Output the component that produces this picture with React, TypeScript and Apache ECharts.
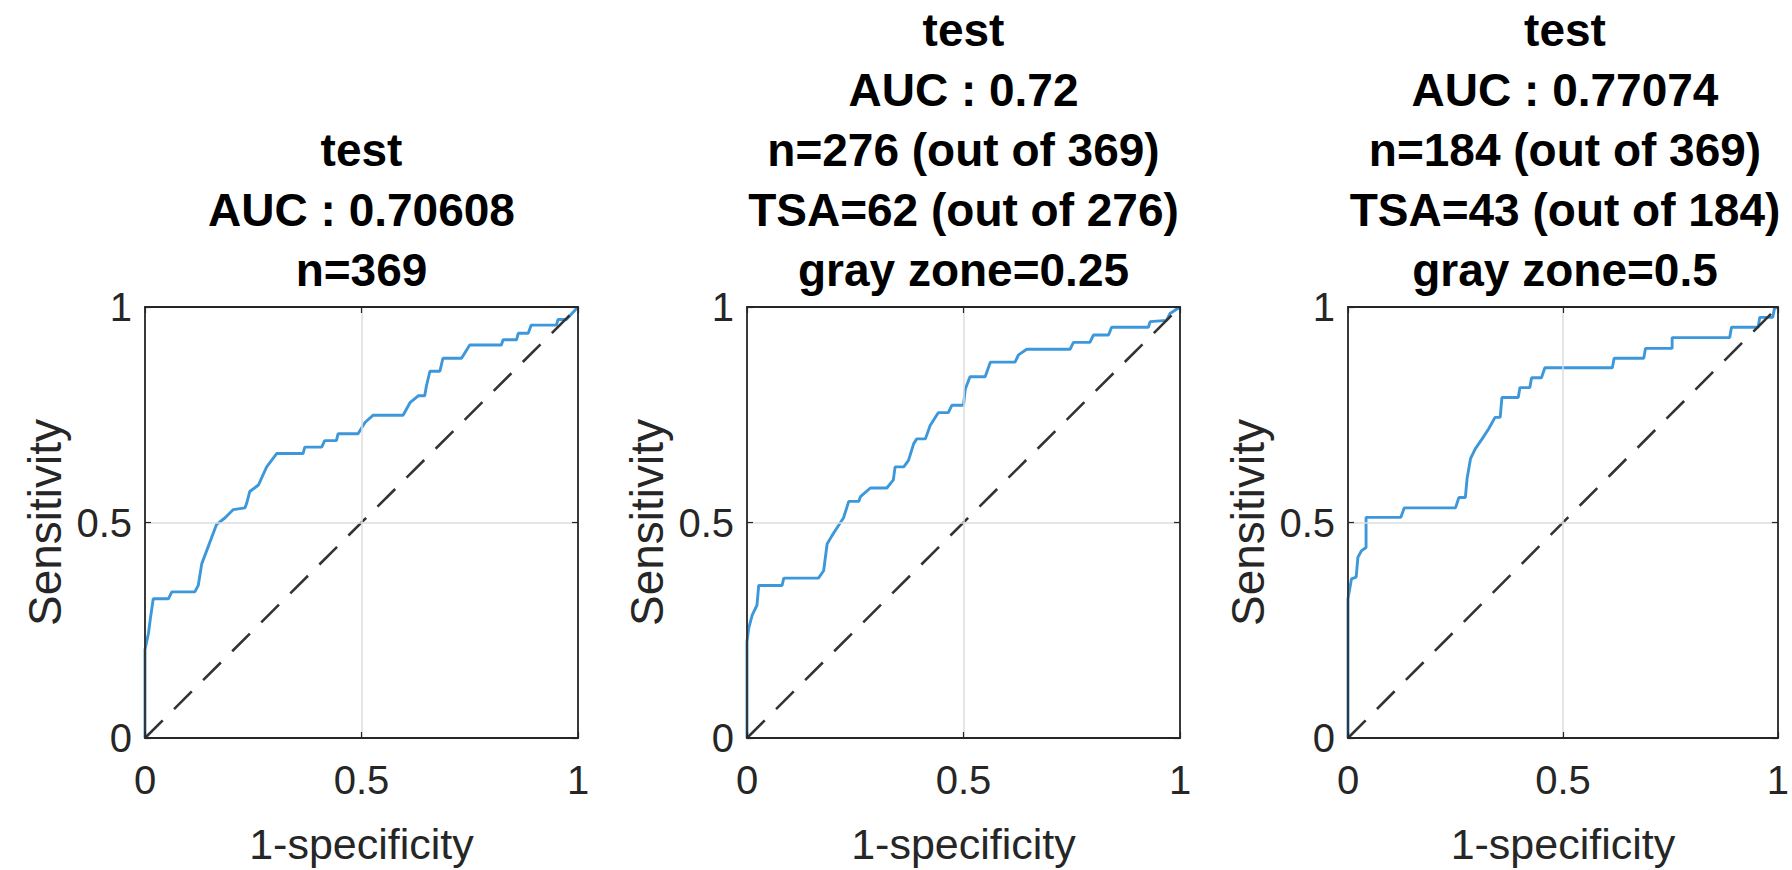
import React, { useEffect, useRef } from 'react';
import * as echarts from 'echarts';

const titles1 = ['test', 'AUC : 0.70608', 'n=369'];
const titles2 = ['test', 'AUC : 0.72', 'n=276 (out of 369)', 'TSA=62 (out of 276)', 'gray zone=0.25'];
const titles3 = ['test', 'AUC : 0.77074', 'n=184 (out of 369)', 'TSA=43 (out of 184)', 'gray zone=0.5'];
const xAxisName = '1-specificity';
const yAxisName = 'Sensitivity';

const diagX = [0, 1];
const diagY = [0, 1];

const fpr1 = [0, 0, 0.008, 0.012, 0.019, 0.054, 0.062, 0.115, 0.123, 0.131, 0.165, 0.185, 0.204, 0.231, 0.235, 0.242, 0.262, 0.281, 0.304, 0.365, 0.369, 0.408, 0.415, 0.442, 0.446, 0.492, 0.508, 0.527, 0.596, 0.612, 0.631, 0.646, 0.65, 0.658, 0.681, 0.688, 0.731, 0.75, 0.823, 0.827, 0.858, 0.862, 0.885, 0.892, 0.95, 0.954, 0.973, 1];
const tpr1 = [0, 0.205, 0.243, 0.274, 0.323, 0.323, 0.339, 0.339, 0.354, 0.404, 0.495, 0.511, 0.53, 0.534, 0.545, 0.572, 0.587, 0.629, 0.66, 0.66, 0.675, 0.675, 0.69, 0.69, 0.706, 0.706, 0.732, 0.749, 0.749, 0.778, 0.794, 0.794, 0.817, 0.851, 0.851, 0.881, 0.881, 0.912, 0.912, 0.924, 0.924, 0.939, 0.939, 0.958, 0.958, 0.971, 0.971, 1];

const fpr2 = [0, 0, 0.004, 0.012, 0.023, 0.027, 0.081, 0.085, 0.165, 0.177, 0.185, 0.196, 0.208, 0.223, 0.235, 0.258, 0.262, 0.285, 0.323, 0.338, 0.342, 0.362, 0.373, 0.385, 0.392, 0.412, 0.423, 0.442, 0.465, 0.473, 0.5, 0.504, 0.515, 0.55, 0.562, 0.619, 0.627, 0.646, 0.746, 0.754, 0.792, 0.8, 0.835, 0.842, 0.927, 0.931, 0.969, 0.977, 1];
const tpr2 = [0, 0.224, 0.255, 0.285, 0.308, 0.354, 0.354, 0.371, 0.371, 0.388, 0.45, 0.469, 0.488, 0.511, 0.549, 0.549, 0.56, 0.58, 0.58, 0.599, 0.629, 0.629, 0.644, 0.683, 0.694, 0.694, 0.725, 0.755, 0.755, 0.772, 0.772, 0.809, 0.838, 0.838, 0.872, 0.872, 0.889, 0.902, 0.902, 0.918, 0.918, 0.935, 0.935, 0.953, 0.953, 0.966, 0.969, 0.985, 1];

const fpr3 = [0, 0, 0.008, 0.019, 0.023, 0.031, 0.042, 0.042, 0.123, 0.131, 0.25, 0.258, 0.273, 0.277, 0.285, 0.296, 0.312, 0.327, 0.342, 0.354, 0.358, 0.396, 0.4, 0.423, 0.427, 0.45, 0.458, 0.615, 0.619, 0.688, 0.692, 0.754, 0.754, 0.888, 0.892, 0.954, 0.958, 0.988, 0.992, 1];
const tpr3 = [0, 0.323, 0.369, 0.373, 0.419, 0.434, 0.442, 0.512, 0.512, 0.534, 0.534, 0.558, 0.558, 0.602, 0.648, 0.671, 0.694, 0.717, 0.744, 0.744, 0.79, 0.79, 0.813, 0.813, 0.836, 0.836, 0.859, 0.859, 0.881, 0.881, 0.904, 0.904, 0.929, 0.929, 0.953, 0.953, 0.976, 0.976, 0.996, 1];

const FONT = "'Liberation Sans', Arial, Helvetica, sans-serif";

export default function App() {
  const ref = useRef<HTMLDivElement>(null);
  useEffect(() => {
    if (!ref.current) return;
    const chart = echarts.init(ref.current, null, { renderer: 'svg' });
    const panels = [
      { fpr: fpr1, tpr: tpr1, titles: titles1, left: 145, width: 433 },
      { fpr: fpr2, tpr: tpr2, titles: titles2, left: 747, width: 433 },
      { fpr: fpr3, tpr: tpr3, titles: titles3, left: 1348, width: 434 },
    ];
    const top = 307;
    const height = 436;
    const lineH = 60;
    const lastBaseline = 286;
    const grid: any[] = [];
    const xAxis: any[] = [];
    const yAxis: any[] = [];
    const series: any[] = [];
    const title: any[] = [];
    const axisColor = '#262626';
    const gridLine = { show: true, lineStyle: { color: '#dcdcdc', width: 1.5 } };
    panels.forEach((p, i) => {
      grid.push({ left: p.left, top, width: p.width, height, show: true, borderWidth: 0, backgroundColor: '#fff' });
      const firstBaseline = lastBaseline - (p.titles.length - 1) * lineH;
      title.push({
        text: p.titles.join('\n'),
        left: p.left + p.width / 2,
        top: firstBaseline - 16 - lineH / 2,
        textAlign: 'center',
        padding: 0,
        textStyle: { fontSize: 46, fontWeight: 'bold', fontFamily: FONT, color: '#000', lineHeight: lineH },
      });
      const common = {
        type: 'value', min: 0, max: 1, interval: 0.5,
        axisLine: { show: true, onZero: false, lineStyle: { color: axisColor, width: 1.8 } },
        axisTick: { show: true, inside: true, length: 6, lineStyle: { color: axisColor, width: 1.2 } },
        z: 5,
      };
      xAxis.push({
        ...common, gridIndex: i, position: 'bottom',
        name: xAxisName, nameLocation: 'middle', nameGap: 84,
        nameTextStyle: { fontSize: 43, fontFamily: FONT, color: axisColor },
        axisLabel: { fontSize: 40, fontFamily: FONT, color: axisColor, margin: 22 },
        splitLine: gridLine,
      });
      xAxis.push({
        ...common, gridIndex: i, position: 'top',
        axisLabel: { show: false }, splitLine: { show: false },
      });
      yAxis.push({
        ...common, gridIndex: i, position: 'left',
        name: yAxisName, nameLocation: 'middle', nameGap: 77,
        nameTextStyle: { fontSize: 46, fontFamily: FONT, color: axisColor },
        axisLabel: { fontSize: 40, fontFamily: FONT, color: axisColor, margin: 13 },
        splitLine: gridLine,
      });
      yAxis.push({
        ...common, gridIndex: i, position: 'right',
        axisLabel: { show: false }, splitLine: { show: false },
      });
      series.push({
        type: 'line', xAxisIndex: i * 2, yAxisIndex: i * 2,
        data: p.fpr.map((x, k) => [x, p.tpr[k]]),
        showSymbol: false, symbol: 'none',
        lineStyle: { color: '#3d98db', width: 2.9 },
        z: 3,
      });
      series.push({
        type: 'line', xAxisIndex: i * 2, yAxisIndex: i * 2,
        data: diagX.map((x, k) => [x, diagY[k]]),
        showSymbol: false, symbol: 'none',
        lineStyle: { color: '#333', width: 2.6, type: [25, 16] },
        z: 4,
      });
    });
    chart.setOption({ animation: false, backgroundColor: '#fff', title, grid, xAxis, yAxis, series });
    return () => chart.dispose();
  }, []);
  return <div ref={ref} style={{ position: 'fixed', left: 0, top: 0, width: 1792, height: 870 }} />;
}
